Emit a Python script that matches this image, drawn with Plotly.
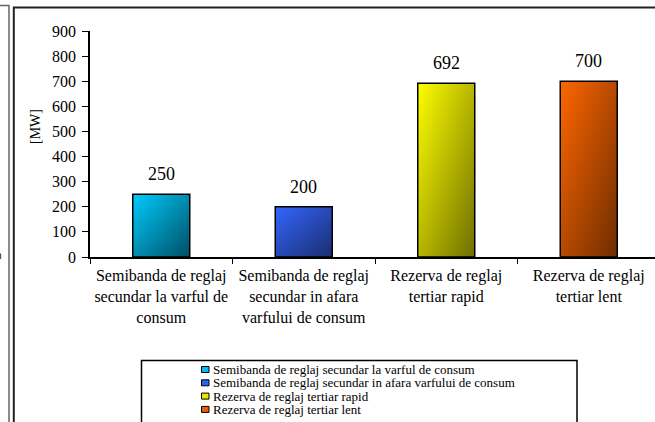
import base64
import plotly.graph_objects as go

# ---- data ----
categories = [
    "Semibanda de reglaj secundar la varful de consum",
    "Semibanda de reglaj secundar in afara varfului de consum",
    "Rezerva de reglaj tertiar rapid",
    "Rezerva de reglaj tertiar lent",
]
tick_labels = [
    "Semibanda de reglaj<br>secundar la varful de<br>consum",
    "Semibanda de reglaj<br>secundar in afara<br>varfului de consum",
    "Rezerva de reglaj<br>tertiar rapid",
    "Rezerva de reglaj<br>tertiar lent",
]
values = [250, 200, 692, 700]
y_ticks = [0, 100, 200, 300, 400, 500, 600, 700, 800, 900]

# ---- styles ----
grad_light = ["#00CCFF", "#3366FF", "#FFFF00", "#FF6600"]
grad_dark = ["#004E64", "#1A2D6E", "#6E6E00", "#6E2D00"]
legend_fill = ["#00C0F0", "#2E60F0", "#E8E800", "#E85E10"]
FONT = "Times New Roman, Liberation Serif, DejaVu Serif, serif"

W, H = 655, 422
L, T, B = 90, 31, 257
PW, PH = W - L, B - T
BAR_W = 0.4


def px(x):
    return (x - L) / PW


def py(y):
    return (B - y) / PH


def grad_uri(c1, c2):
    svg = (
        '<svg xmlns="http://www.w3.org/2000/svg" width="100" height="100" '
        'viewBox="0 0 100 100" preserveAspectRatio="none">'
        '<defs><linearGradient id="g" x1="0" y1="0" x2="1" y2="1">'
        f'<stop offset="0" stop-color="{c1}"/><stop offset="1" stop-color="{c2}"/>'
        '</linearGradient></defs><rect width="100" height="100" fill="url(#g)"/></svg>'
    )
    return "data:image/svg+xml;base64," + base64.b64encode(svg.encode()).decode()


fig = go.Figure()
fig.add_trace(
    go.Bar(
        x=tick_labels,
        y=values,
        width=BAR_W,
        marker=dict(color="rgba(0,0,0,0)", line=dict(color="black", width=1.5)),
        showlegend=False,
        hoverinfo="skip",
    )
)

images = []
annotations = []
for i, v in enumerate(values):
    images.append(
        dict(
            source=grad_uri(grad_light[i], grad_dark[i]),
            xref="x", yref="y",
            x=i - BAR_W / 2, y=v, sizex=BAR_W, sizey=v,
            xanchor="left", yanchor="top",
            sizing="stretch", layer="below",
        )
    )
    annotations.append(
        dict(
            x=tick_labels[i], y=v, text=str(v), showarrow=False,
            yshift=20, yanchor="middle",
            font=dict(family=FONT, size=18, color="black"),
        )
    )

# y-axis title
annotations.append(
    dict(
        xref="paper", yref="paper", x=px(35), y=py(127), text="[MW]",
        textangle=-90, showarrow=False, xanchor="center", yanchor="middle",
        font=dict(family=FONT, size=14, color="black"),
    )
)
# clipped character at the far left
annotations.append(
    dict(
        xref="paper", yref="paper", x=px(4), y=py(255), text="n",
        showarrow=False, xanchor="right", yanchor="middle",
        font=dict(family="Liberation Sans, Arial", size=10, color="black"),
    )
)

shapes = []
# outer frames
shapes.append(dict(type="path", xref="paper", yref="paper",
                   path=f"M {px(0)},{py(5.5)} L {px(9)},{py(5.5)} L {px(9)},{py(430)}",
                   line=dict(color="#666", width=1.5)))
shapes.append(dict(type="path", xref="paper", yref="paper",
                   path=f"M {px(13.8)},{py(430)} L {px(13.8)},{py(7.5)} L {px(660)},{py(7.5)}",
                   line=dict(color="#222", width=2)))
# legend box
shapes.append(dict(type="rect", xref="paper", yref="paper",
                   x0=px(141.5), x1=px(577), y0=py(360.5), y1=py(432),
                   line=dict(color="black", width=1.5), fillcolor="white"))
for i, name in enumerate(categories):
    yc = 369.5 + i * 13.3
    shapes.append(dict(type="rect", xref="paper", yref="paper",
                       x0=px(201.5), x1=px(209), y0=py(yc - 3), y1=py(yc + 3),
                       line=dict(color="black", width=1), fillcolor=legend_fill[i]))
    annotations.append(
        dict(xref="paper", yref="paper", x=px(210.5), y=py(yc), text=name,
             showarrow=False, xanchor="left", yanchor="middle",
             font=dict(family=FONT, size=13, color="black"))
    )

fig.update_layout(
    width=W, height=H,
    margin=dict(l=L, r=0, t=T, b=H - B, pad=0, autoexpand=False),
    paper_bgcolor="white", plot_bgcolor="white",
    showlegend=False,
    images=images, shapes=shapes, annotations=annotations,
    font=dict(family=FONT, color="black"),
    bargap=0.6,
)
fig.update_xaxes(
    type="category",
    range=[-0.5, -0.5 + PW / 142.5],
    automargin=False, tickangle=0,
    showline=True, linecolor="black", linewidth=1.5,
    ticks="outside", tickson="boundaries", ticklen=5, tickcolor="black", tickwidth=1,
    tickfont=dict(family=FONT, size=16, color="black"),
    ticklabelstandoff=3,
    showgrid=False, zeroline=False,
)
fig.update_yaxes(
    range=[0, 900], tickvals=y_ticks,
    automargin=False,
    showline=True, linecolor="black", linewidth=1.5,
    ticks="outside", ticklen=6, tickcolor="black", tickwidth=1,
    tickfont=dict(family=FONT, size=16, color="black"),
    ticklabelstandoff=3,
    showgrid=False, zeroline=False,
)

fig.write_html(
    "out.html",
    config={"displayModeBar": False},
    post_script="document.body.style.margin='0';document.body.style.overflow='hidden';",
)
